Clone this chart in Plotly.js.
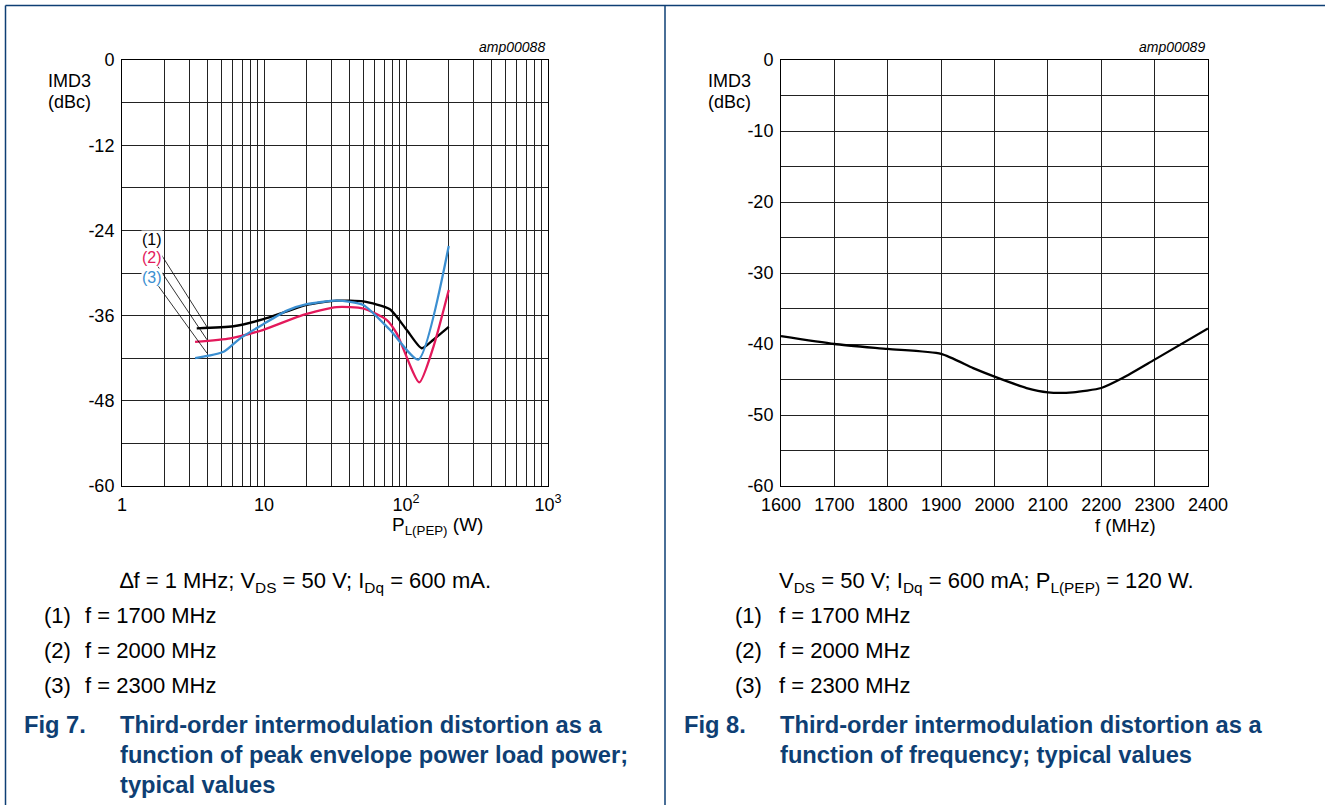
<!DOCTYPE html>
<html>
<head>
<meta charset="utf-8">
<script src="https://cdn.plot.ly/plotly-3.0.1.min.js"></script>
<style>html,body{margin:0;padding:0;background:#fff;}#chart{width:1325px;height:805px;}</style>
</head>
<body>
<div id="chart"></div>
<script>
// ---- Fig 7 data: IMD3 (dBc) vs PL(PEP) (W) ----
const p1 = [3.36, 6.1, 9.9, 14.5, 20, 32.5, 50, 77, 101, 129, 156, 200];
const imd1 = [-37.8, -37.5, -36.5, -35.4, -34.5, -33.9, -34.0, -35.1, -38.0, -40.6, -39.4, -37.6];
const p2 = [3.27, 5.8, 9.9, 18.9, 32.5, 50, 73, 86, 124, 156, 200];
const imd2 = [-39.7, -39.2, -38.0, -35.9, -34.8, -35.0, -36.6, -38.5, -45.4, -40.4, -32.4];
const p3 = [3.27, 5.2, 6.8, 9.9, 14.5, 20, 32.5, 50, 77, 122, 200];
const imd3 = [-42.0, -41.1, -39.2, -37.2, -35.3, -34.4, -33.9, -34.5, -38.0, -42.2, -26.2];

// ---- Fig 8 data: IMD3 (dBc) vs f (MHz) ----
const freq = [1600, 1700, 1800, 1900, 1960, 2000, 2060, 2100, 2147, 2200, 2240, 2300, 2400];
const imdF = [-38.9, -40.0, -40.7, -41.4, -43.4, -44.6, -46.2, -46.8, -46.8, -46.2, -44.8, -42.2, -37.8];

// ---- tick labels ----
const logTickVals = [1, 10, 100, 1000];
const logTickText = ['1', '10', '10<sup>2</sup>', '10<sup>3</sup>'];
const logMinorVals = [2, 3, 4, 5, 6, 7, 8, 9, 20, 30, 40, 50, 60, 70, 80, 90, 200, 300, 400, 500, 600, 700, 800, 900];

const y1TickVals = [-60, -48, -36, -24, -12, 0];
const y1TickText = ['-60', '-48', '-36', '-24', '-12', '0'];
const y1MinorVals = [-54, -42, -30, -18, -6];
const y2TickVals = [-60, -50, -40, -30, -20, -10, 0];
const y2TickText = ['-60', '-50', '-40', '-30', '-20', '-10', '0'];
const y2MinorVals = [-55, -45, -35, -25, -15, -5];
const fTickVals = [1600, 1700, 1800, 1900, 2000, 2100, 2200, 2300, 2400];
const fTickText = ['1600', '1700', '1800', '1900', '2000', '2100', '2200', '2300', '2400'];

const seriesColors = ['#000000', '#e3195b', '#3b8fd1'];
const navy = '#0e3f74';
const FONT = 'Arial, "Liberation Sans", sans-serif';

const W = 1325, H = 805;
const px = function (x) { return x / W; };
const py = function (y) { return 1 - y / H; };

const lineStyle = function (c) { return { color: c, width: 2.3, shape: 'spline', smoothing: 0.6 }; };

const traces = [
  { x: p1, y: imd1, mode: 'lines', line: lineStyle(seriesColors[0]), xaxis: 'x', yaxis: 'y', hoverinfo: 'x+y' },
  { x: p2, y: imd2, mode: 'lines', line: lineStyle(seriesColors[1]), xaxis: 'x', yaxis: 'y', hoverinfo: 'x+y' },
  { x: p3, y: imd3, mode: 'lines', line: lineStyle(seriesColors[2]), xaxis: 'x', yaxis: 'y', hoverinfo: 'x+y' },
  { x: freq, y: imdF, mode: 'lines', line: lineStyle('#000000'), xaxis: 'x2', yaxis: 'y2', hoverinfo: 'x+y' }
];

const GRID = '#222';
const axisCommon = {
  showgrid: true, gridcolor: GRID, gridwidth: 1,
  showline: true, linecolor: '#000', linewidth: 1, mirror: true,
  zeroline: false, ticks: '', tickfont: { family: FONT, size: 18, color: '#000' },
  fixedrange: true
};
const minorGrid = function (vals) {
  return { tickmode: 'array', tickvals: vals, showgrid: true, gridcolor: GRID, gridwidth: 1, ticks: '' };
};

const tFont = function (size, color, bold) {
  return { family: FONT, size: size, color: color || '#000', weight: bold ? 'bold' : 'normal' };
};

function txt(x, y, text, size, opts) {
  opts = opts || {};
  return Object.assign({
    xref: 'paper', yref: 'paper', x: px(x), y: py(y), text: text, showarrow: false,
    xanchor: 'left', yanchor: 'middle', font: tFont(size, opts.color, opts.bold)
  }, opts.extra || {});
}

const CAP = 22, TIT = 23.7;
const annotations = [
  // Fig 7 chart labels
  txt(547, 47, '<i>amp00088</i>', 14, { extra: { xanchor: 'right' } }),
  txt(46, 81, 'IMD3', 18),
  txt(46, 102, '(dBc)', 18),
  txt(390, 526, 'P<sub>L(PEP)</sub> (W)', 19),
  // Fig 8 chart labels
  txt(1207, 47, '<i>amp00089</i>', 14, { extra: { xanchor: 'right' } }),
  txt(706, 81, 'IMD3', 18),
  txt(706, 102, '(dBc)', 18),
  txt(1125, 525, 'f (MHz)', 18.5, { extra: { xanchor: 'center' } }),
  // Fig 7 captions
  txt(118, 582, '∆f = 1 MHz; V<sub>DS</sub> = 50 V; I<sub>Dq</sub> = 600 mA.', CAP),
  txt(42, 615, '(1)', CAP), txt(83, 615, 'f = 1700 MHz', CAP),
  txt(42, 650, '(2)', CAP), txt(83, 650, 'f = 2000 MHz', CAP),
  txt(42, 685, '(3)', CAP), txt(83, 685, 'f = 2300 MHz', CAP),
  txt(22, 725, 'Fig 7.', TIT, { color: navy, bold: true }),
  txt(118, 725, 'Third-order intermodulation distortion as a', TIT, { color: navy, bold: true }),
  txt(118, 755, 'function of peak envelope power load power;', TIT, { color: navy, bold: true }),
  txt(118, 785, 'typical values', TIT, { color: navy, bold: true }),
  // Fig 8 captions
  txt(777, 582, 'V<sub>DS</sub> = 50 V; I<sub>Dq</sub> = 600 mA; P<sub>L(PEP)</sub> = 120 W.', CAP),
  txt(733, 615, '(1)', CAP), txt(777, 615, 'f = 1700 MHz', CAP),
  txt(733, 650, '(2)', CAP), txt(777, 650, 'f = 2000 MHz', CAP),
  txt(733, 685, '(3)', CAP), txt(777, 685, 'f = 2300 MHz', CAP),
  txt(682, 725, 'Fig 8.', TIT, { color: navy, bold: true }),
  txt(778, 725, 'Third-order intermodulation distortion as a', TIT, { color: navy, bold: true }),
  txt(778, 755, 'function of frequency; typical values', TIT, { color: navy, bold: true })
];

// curve labels with leader lines (Fig 7)
const labelDefs = [
  { t: '(1)', c: seriesColors[0], x: 3.97, y: -37.6, ay: -87 },
  { t: '(2)', c: seriesColors[1], x: 3.97, y: -39.4, ay: -82 },
  { t: '(3)', c: seriesColors[2], x: 3.97, y: -41.3, ay: -76 }
];
labelDefs.forEach(function (d) {
  annotations.push({
    xref: 'x', yref: 'y', x: Math.log10(d.x), y: d.y, text: d.t,
    showarrow: true, arrowhead: 0, arrowwidth: 0.8, arrowcolor: '#000',
    ax: -55, ay: d.ay, bgcolor: '#fff', borderpad: 0,
    font: tFont(16, d.c)
  });
});

const layout = {
  width: W, height: H,
  margin: { l: 0, r: 0, t: 0, b: 0 },
  paper_bgcolor: '#fff', plot_bgcolor: '#fff',
  showlegend: false,
  xaxis: Object.assign({}, axisCommon, {
    type: 'log', range: [0, 3], domain: [px(122), px(548)],
    tickmode: 'array', tickvals: logTickVals, ticktext: logTickText, anchor: 'y', ticklabelstandoff: 2,
    minor: minorGrid(logMinorVals)
  }),
  yaxis: Object.assign({}, axisCommon, {
    range: [-60, 0], domain: [py(486), py(60)],
    tickmode: 'array', tickvals: y1TickVals, ticktext: y1TickText, anchor: 'x', ticklabelstandoff: 3,
    minor: minorGrid(y1MinorVals)
  }),
  xaxis2: Object.assign({}, axisCommon, {
    range: [1600, 2400], domain: [px(781), px(1208)],
    tickmode: 'array', tickvals: fTickVals, ticktext: fTickText, anchor: 'y2', ticklabelstandoff: 2
  }),
  yaxis2: Object.assign({}, axisCommon, {
    range: [-60, 0], domain: [py(486), py(60)],
    tickmode: 'array', tickvals: y2TickVals, ticktext: y2TickText, anchor: 'x2', ticklabelstandoff: 3,
    minor: minorGrid(y2MinorVals)
  }),
  annotations: annotations,
  shapes: [
    { type: 'line', xref: 'paper', yref: 'paper', x0: px(5.5), x1: 1, y0: py(5.5), y1: py(5.5), line: { color: navy, width: 1.5 } },
    { type: 'line', xref: 'paper', yref: 'paper', x0: px(5.5), x1: px(5.5), y0: py(5.5), y1: 0, line: { color: navy, width: 1.5 } },
    { type: 'line', xref: 'paper', yref: 'paper', x0: px(665), x1: px(665), y0: py(5.5), y1: 0, line: { color: navy, width: 1.5 } }
  ]
};

Plotly.newPlot('chart', traces, layout, { displayModeBar: false, staticPlot: true });
</script>
</body>
</html>
